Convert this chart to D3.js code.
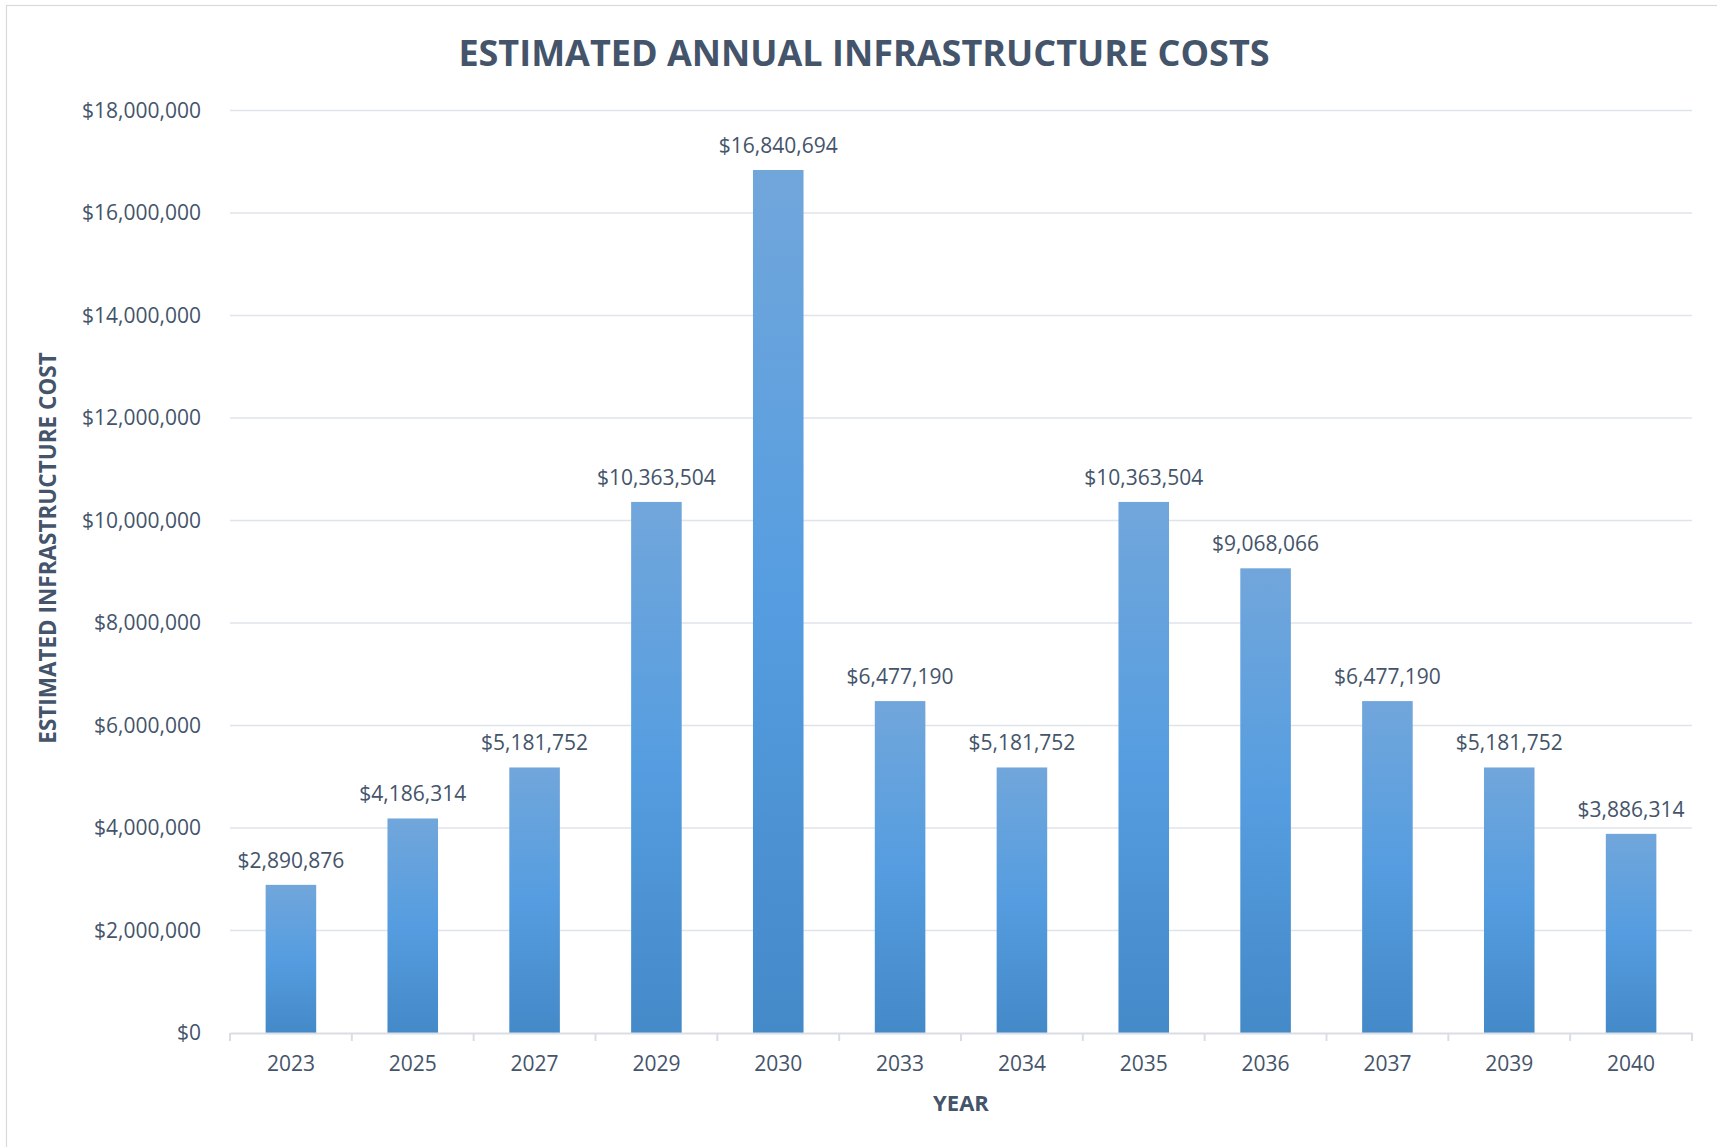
<!DOCTYPE html>
<html>
<head>
<meta charset="utf-8">
<script src="https://cdn.jsdelivr.net/npm/d3@7"></script>
<style>
  body { margin: 0; background: #fff; }
  svg text { font-family: "Open Sans", sans-serif; fill: #44546a; }
</style>
</head>
<body>
<div id="chart"></div>
<script>
var years = ["2023", "2025", "2027", "2029", "2030", "2033", "2034", "2035", "2036", "2037", "2039", "2040"];
var costs = [2890876, 4186314, 5181752, 10363504, 16840694, 6477190, 5181752, 10363504, 9068066, 6477190, 5181752, 3886314];
var yTicks = [0, 2000000, 4000000, 6000000, 8000000, 10000000, 12000000, 14000000, 16000000, 18000000];

var width = 1717,
    height = 1147;

var margin = {top: 110.6, right: 25, bottom: 114, left: 230};

var svg = d3.select("#chart")
    .append("svg")
    .attr("width", width)
    .attr("height", height);

// chart frame, runs off the page on the right and bottom
svg.append("rect")
    .attr("x", 6.5)
    .attr("y", 5.5)
    .attr("width", width + 20)
    .attr("height", height + 20)
    .attr("fill", "none")
    .attr("stroke", "#d9d9d9")
    .attr("stroke-width", 1.2);

var x = d3.scaleBand()
    .domain(years)
    .range([margin.left, width - margin.right])
    .paddingInner(0.585)
    .paddingOuter(0.2925);

var x0 = d3.scaleBand().domain(years).range([margin.left, width - margin.right]);

var y = d3.scaleLinear()
    .domain([0, 18000000])
    .range([height - margin.bottom, margin.top]);

var money = function(v) { return "$" + d3.format(",")(v); };

var defs = svg.append("defs");
var grad = defs.append("linearGradient")
    .attr("id", "barGrad")
    .attr("x1", 0).attr("y1", 0).attr("x2", 0).attr("y2", 1);
grad.append("stop").attr("offset", "0%").attr("stop-color", "#71a6db");
grad.append("stop").attr("offset", "50%").attr("stop-color", "#559de0");
grad.append("stop").attr("offset", "100%").attr("stop-color", "#4489c8");

// gridlines
svg.append("g")
    .selectAll("line")
    .data(yTicks.slice(1))
    .enter().append("line")
    .attr("x1", margin.left)
    .attr("x2", width - margin.right)
    .attr("y1", function(d) { return y(d); })
    .attr("y2", function(d) { return y(d); })
    .attr("stroke", "#dfe3ea")
    .attr("stroke-width", 1.5);

// y labels
svg.append("g")
    .selectAll("text")
    .data(yTicks)
    .enter().append("text")
    .attr("x", 201)
    .attr("y", function(d) { return y(d); })
    .attr("dy", "0.35em")
    .attr("text-anchor", "end")
    .style("font-size", "21px")
    .text(money);

// bars
svg.append("g")
    .selectAll("rect")
    .data(costs)
    .enter().append("rect")
    .attr("x", function(d, i) { return x(years[i]); })
    .attr("y", function(d) { return y(d); })
    .attr("width", x.bandwidth())
    .attr("height", function(d) { return y(0) - y(d); })
    .attr("fill", "url(#barGrad)");

// value labels
svg.append("g")
    .selectAll("text")
    .data(costs)
    .enter().append("text")
    .attr("x", function(d, i) { return x(years[i]) + x.bandwidth() / 2; })
    .attr("y", function(d) { return y(d) - 17; })
    .attr("text-anchor", "middle")
    .style("font-size", "21px")
    .text(money);

// x axis
var xAxis = svg.append("g")
    .attr("transform", "translate(0," + y(0) + ")")
    .call(d3.axisBottom(x0).tickSize(0).tickPadding(23));
xAxis.select(".domain").attr("stroke", "#d9dee6").attr("stroke-width", 2);
xAxis.selectAll(".tick text")
    .style("font-size", "21px")
    .style("font-family", "Open Sans, sans-serif")
    .attr("fill", "#44546a");

// boundary ticks between categories
var edges = years.map(function(d) { return x0(d); }).concat([width - margin.right]);
xAxis.selectAll(".edge")
    .data(edges)
    .enter().append("line")
    .attr("class", "edge")
    .attr("x1", function(d) { return d; })
    .attr("x2", function(d) { return d; })
    .attr("y1", 0)
    .attr("y2", 8)
    .attr("stroke", "#d9dee6")
    .attr("stroke-width", 2);

// titles
svg.append("text")
    .attr("x", 864)
    .attr("y", 66)
    .attr("text-anchor", "middle")
    .style("font-size", "36px")
    .style("font-weight", "bold")
    .text("ESTIMATED ANNUAL INFRASTRUCTURE COSTS");

svg.append("text")
    .attr("x", (margin.left + width - margin.right) / 2)
    .attr("y", 1111)
    .attr("text-anchor", "middle")
    .style("font-size", "22px")
    .style("font-weight", "bold")
    .text("YEAR");

svg.append("text")
    .attr("transform", "translate(56,548) rotate(-90)")
    .attr("text-anchor", "middle")
    .style("font-size", "22.5px")
    .style("font-weight", "bold")
    .text("ESTIMATED INFRASTRUCTURE COST");
</script>
</body>
</html>
